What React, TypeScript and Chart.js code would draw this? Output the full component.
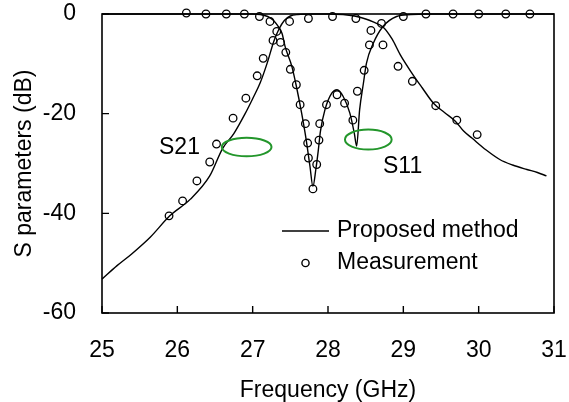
import React, { useEffect, useRef } from 'react';
import { Chart, registerables } from 'chart.js';

Chart.register(...registerables);

// ---- Data ----
const xTicks = [25, 26, 27, 28, 29, 30, 31];
const yTicks = [0, -20, -40, -60];

// Simulated (proposed method) S21
const simS21Freq = [25.0, 25.2, 25.39, 25.64, 25.9, 26.17, 26.43, 26.6, 26.75, 26.9, 27.0, 27.1, 27.2, 27.28, 27.35, 27.42, 27.5, 27.6, 27.8, 28.0, 28.2, 28.35, 28.5, 28.6, 28.73, 28.85, 28.96, 29.12, 29.25, 29.4, 29.55, 29.69, 29.8, 29.91, 30.1, 30.28, 30.45, 30.64, 30.78, 30.9];
const simS21Db = [-53.2, -50.5, -48.2, -44.8, -40.5, -37.2, -32.5, -27.0, -24.0, -20.0, -17.0, -13.8, -9.5, -5.5, -3.0, -1.3, -0.4, -0.1, 0, 0, -0.1, -0.4, -1.0, -1.6, -2.6, -5.0, -8.2, -12.0, -14.8, -17.9, -19.8, -21.5, -23.5, -24.9, -27.3, -29.2, -30.3, -31.2, -31.8, -32.5];

// Simulated (proposed method) S11
const simS11Freq = [25.0, 26.0, 27.0, 27.1, 27.2, 27.27, 27.33, 27.39, 27.43, 27.52, 27.58, 27.65, 27.71, 27.76, 27.8, 27.84, 27.87, 27.9, 27.96, 28.05, 28.12, 28.2, 28.29, 28.35, 28.38, 28.42, 28.47, 28.51, 28.6, 28.73, 28.91, 29.1, 29.3, 31.0];
const simS11Db = [0, 0, 0, -0.1, -0.5, -1.2, -2.3, -3.9, -6.5, -10.5, -14.5, -19.9, -25.2, -30.5, -34.6, -31.0, -27.5, -23.5, -19.2, -15.9, -15.2, -16.5, -19.9, -24.0, -26.5, -19.2, -13.9, -9.9, -5.9, -2.5, -0.5, -0.1, 0, 0];

// Measured S21
const measS21Freq = [25.89, 26.07, 26.26, 26.43, 26.52, 26.74, 26.91, 27.06, 27.14, 27.27, 27.32, 27.49, 27.74, 28.06, 28.37, 28.57, 28.73, 28.93, 29.12, 29.43, 29.71, 29.98];
const measS21Db = [-40.5, -37.5, -33.5, -29.7, -26.1, -20.9, -16.9, -12.4, -8.9, -5.3, -3.5, -1.5, -0.9, -0.5, -0.9, -3.3, -6.2, -10.5, -13.5, -18.4, -21.3, -24.2];

// Measured S11
const measS11Freq = [26.12, 26.38, 26.65, 26.89, 27.09, 27.23, 27.37, 27.44, 27.5, 27.58, 27.63, 27.7, 27.73, 27.74, 27.8, 27.85, 27.88, 27.89, 27.98, 28.12, 28.22, 28.33, 28.39, 28.48, 28.55, 28.71, 29.0, 29.3, 29.66, 30.0, 30.36, 30.68];
const measS11Db = [0.2, 0, 0, 0, -0.5, -1.5, -5.7, -7.7, -11.1, -14.2, -18.2, -22.0, -25.9, -28.9, -35.1, -30.2, -25.3, -22.0, -18.2, -16.2, -17.9, -21.3, -15.5, -11.3, -6.2, -1.9, -0.5, 0, 0, 0, 0, 0];

// Annotations (data units)
const noteText = ['S21', 'S11'];
const noteFreq = [26.3, 28.73];
const noteDb = [-26.8, -30.6];
const noteAlign: CanvasTextAlign[] = ['right', 'left'];

// Green ellipses (centre and half-axes in data units)
const ellFreq = [26.92, 28.535];
const ellDb = [-26.7, -25.2];
const ellHalfF = [0.33, 0.31];
const ellHalfDb = [1.85, 2.0];

const legendLabels = ['Proposed method', 'Measurement'];

const FONT = '"Liberation Sans", Arial, sans-serif';
const FS = 23;

const toPts = (xs: number[], ys: number[]) => xs.map((x, i) => ({ x, y: ys[i] }));

const decor = {
  id: 'decor',
  afterDraw(chart: any) {
    const { ctx, chartArea: a, scales } = chart;
    const xs = scales.x;
    const ys = scales.y;
    ctx.save();
    // frame
    ctx.strokeStyle = '#000';
    ctx.lineWidth = 1.6;
    ctx.strokeRect(a.left, a.top, a.right - a.left, a.bottom - a.top);
    // inward ticks
    ctx.lineWidth = 1.4;
    ctx.beginPath();
    xTicks.forEach((v) => {
      const px = xs.getPixelForValue(v);
      ctx.moveTo(px, a.bottom);
      ctx.lineTo(px, a.bottom - 7);
    });
    yTicks.forEach((v) => {
      const py = ys.getPixelForValue(v);
      ctx.moveTo(a.left, py);
      ctx.lineTo(a.left + 7, py);
    });
    ctx.stroke();

    // ellipses
    ctx.strokeStyle = '#23962b';
    ctx.lineWidth = 2;
    ellFreq.forEach((f, i) => {
      const cx = xs.getPixelForValue(f);
      const cy = ys.getPixelForValue(ellDb[i]);
      const rx = Math.abs(xs.getPixelForValue(f + ellHalfF[i]) - cx);
      const ry = Math.abs(ys.getPixelForValue(ellDb[i] + ellHalfDb[i]) - cy);
      ctx.beginPath();
      ctx.ellipse(cx, cy, rx, ry, 0, 0, Math.PI * 2);
      ctx.stroke();
    });

    // annotations
    ctx.fillStyle = '#000';
    ctx.font = `${FS}px ${FONT}`;
    ctx.textBaseline = 'middle';
    noteText.forEach((t, i) => {
      ctx.textAlign = noteAlign[i];
      ctx.fillText(t, xs.getPixelForValue(noteFreq[i]), ys.getPixelForValue(noteDb[i]));
    });

    // legend
    const lx = a.left + 180;
    const ly1 = a.top + 217;
    const ly2 = a.top + 249;
    ctx.strokeStyle = '#000';
    ctx.lineWidth = 1.4;
    ctx.beginPath();
    ctx.moveTo(lx, ly1);
    ctx.lineTo(lx + 47, ly1);
    ctx.stroke();
    ctx.beginPath();
    ctx.arc(lx + 23.5, ly2, 3.6, 0, Math.PI * 2);
    ctx.stroke();
    ctx.textAlign = 'left';
    ctx.fillText(legendLabels[0], lx + 55, ly1);
    ctx.fillText(legendLabels[1], lx + 55, ly2);
    ctx.restore();
  },
};

export default function App() {
  const ref = useRef<HTMLCanvasElement | null>(null);
  useEffect(() => {
    if (!ref.current) return;
    const lineDs = (label: string, xs: number[], ys: number[]) => ({
      label,
      data: toPts(xs, ys),
      showLine: true,
      borderColor: '#000',
      borderWidth: 1.4,
      pointRadius: 0,
      cubicInterpolationMode: 'monotone' as const,
      clip: false as any,
    });
    const ptDs = (label: string, xs: number[], ys: number[]) => ({
      label,
      data: toPts(xs, ys),
      showLine: false,
      pointStyle: 'circle' as const,
      pointRadius: 3.8,
      pointBorderWidth: 1.3,
      pointBorderColor: '#000',
      pointBackgroundColor: 'rgba(255,255,255,0)',
      clip: false as any,
    });
    const chart = new Chart(ref.current, {
      type: 'scatter',
      data: {
        datasets: [
          lineDs('S21 proposed', simS21Freq, simS21Db),
          lineDs('S11 proposed', simS11Freq, simS11Db),
          ptDs('S21 measured', measS21Freq, measS21Db),
          ptDs('S11 measured', measS11Freq, measS11Db),
        ],
      },
      options: {
        animation: false,
        responsive: true,
        maintainAspectRatio: false,
        layout: { padding: { top: 14, right: 15, left: 0, bottom: 0 } },
        plugins: { legend: { display: false }, tooltip: { enabled: false } },
        scales: {
          x: {
            type: 'linear',
            min: 25,
            max: 31,
            afterFit: (s: any) => { s.height = 89; s.paddingLeft = 0; s.paddingRight = 0; },
            afterBuildTicks: (s: any) => { s.ticks = xTicks.map((v) => ({ value: v })); },
            ticks: { color: '#000', font: { family: FONT, size: FS }, padding: 24, maxRotation: 0 },
            grid: { display: false, drawTicks: false },
            border: { display: false },
            title: { display: true, text: 'Frequency (GHz)', color: '#000', font: { family: FONT, size: FS }, padding: { top: 0, bottom: -2 } },
          },
          y: {
            type: 'linear',
            min: -60,
            max: 0,
            afterFit: (s: any) => { s.width = 102; s.paddingTop = 0; s.paddingBottom = 0; },
            afterBuildTicks: (s: any) => { s.ticks = yTicks.map((v) => ({ value: v })); },
            ticks: { color: '#000', font: { family: FONT, size: FS }, padding: 26 },
            grid: { display: false, drawTicks: false },
            border: { display: false },
            title: { display: true, text: 'S parameters (dB)', color: '#000', font: { family: FONT, size: FS }, padding: { top: 11, bottom: 0 } },
          },
        },
      },
      plugins: [decor],
    });
    return () => chart.destroy();
  }, []);
  return (
    <div style={{ position: 'fixed', left: 0, top: 0, width: 569, height: 402, background: '#fff' }}>
      <canvas ref={ref} />
    </div>
  );
}
